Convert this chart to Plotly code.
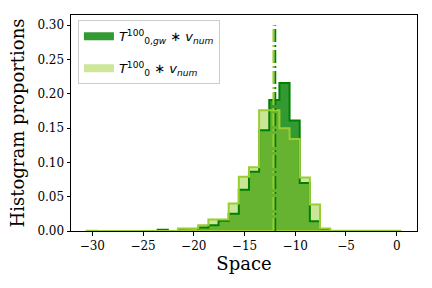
import plotly.graph_objects as go

# ---- data ----
bin_start = -30.56
bin_width = 1.0
# proportions per bin, 31 bins from -30.56 to 0.44
dark_props = [0, 0, 0, 0, 0, 0, 0, 0.002, 0, 0.0012, 0.0005,
              0.005, 0.0083, 0.015, 0.025, 0.060, 0.0865, 0.147, 0.191,
              0.216, 0.161, 0.070, 0.0142, 0.0015, 0, 0, 0, 0, 0, 0, 0]
light_props = [0.0003, 0, 0, 0, 0, 0, 0, 0, 0.0005, 0.0035, 0.0035,
               0.0083, 0.0167, 0.0167, 0.040, 0.079, 0.093, 0.176, 0.176,
               0.150, 0.134, 0.078, 0.0386, 0.0035, 0.0005, 0.0005, 0.0003,
               0.0003, 0.0003, 0.0003, 0.0003]
dark_mean = -11.97
light_mean = -12.15
vline_top = 0.30

x_tickvals = [-30, -25, -20, -15, -10, -5, 0]
x_ticktext = ["\u221230", "\u221225", "\u221220", "\u221215", "\u221210", "\u22125", "0"]
y_tickvals = [0.00, 0.05, 0.10, 0.15, 0.20, 0.25, 0.30]
y_ticktext = ["0.00", "0.05", "0.10", "0.15", "0.20", "0.25", "0.30"]

label_dark = "<i>T</i><sup>100</sup><sub>0,<i>gw</i></sub> \u2217 <i>v</i><sub><i>num</i></sub>"
label_light = "<i>T</i><sup>100</sup><sub>0</sub> \u2217 <i>v</i><sub><i>num</i></sub>"

DARK_EDGE = "#008000"
LIGHT_EDGE = "#9acd32"
DARK_FILL = "rgba(0,128,0,0.8)"
LIGHT_FILL = "rgba(154,205,50,0.5)"


def step_polygon(props):
    n = len(props)
    edges = [bin_start + i * bin_width for i in range(n + 1)]
    xs = [edges[0]]
    ys = [0]
    for i in range(n):
        xs += [edges[i], edges[i + 1]]
        ys += [props[i], props[i]]
    xs += [edges[-1], edges[0]]
    ys += [0, 0]
    return xs, ys


fig = go.Figure()

dx, dy = step_polygon(dark_props)
lx, ly = step_polygon(light_props)

# fills
fig.add_trace(go.Scatter(x=dx, y=dy, mode="lines", fill="toself", fillcolor=DARK_FILL,
                         line=dict(width=0), showlegend=False, hoverinfo="skip"))
fig.add_trace(go.Scatter(x=lx, y=ly, mode="lines", fill="toself", fillcolor=LIGHT_FILL,
                         line=dict(width=0), showlegend=False, hoverinfo="skip"))
# edges
fig.add_trace(go.Scatter(x=dx, y=dy, mode="lines", line=dict(color=DARK_EDGE, width=2),
                         showlegend=False, hoverinfo="skip"))
fig.add_trace(go.Scatter(x=lx, y=ly, mode="lines", line=dict(color=LIGHT_EDGE, width=2),
                         showlegend=False, hoverinfo="skip"))

# mean lines
fig.add_trace(go.Scatter(x=[dark_mean, dark_mean], y=[0, vline_top], mode="lines",
                         line=dict(color=DARK_EDGE, width=2, dash="13px,3px,2px,3px"),
                         showlegend=False, hoverinfo="skip"))
fig.add_trace(go.Scatter(x=[light_mean, light_mean], y=[0, vline_top], mode="lines",
                         line=dict(color=LIGHT_EDGE, width=2, dash="13px,3px,2px,3px"),
                         showlegend=False, hoverinfo="skip"))

# legend-only entries
fig.add_trace(go.Scatter(x=[None], y=[None], mode="lines", fill="toself",
                         fillcolor="#339933", line=dict(color="#339933", width=4),
                         name=label_dark, showlegend=True, legendgroup="a"))
fig.add_trace(go.Scatter(x=[None], y=[None], mode="lines", fill="toself",
                         fillcolor="#cde699", line=dict(color="#cde699", width=4),
                         name=label_light, showlegend=True, legendgroup="b"))

axis_common = dict(
    showline=True, linecolor="black", linewidth=1, mirror=True,
    ticks="outside", ticklen=3.5, tickwidth=1, tickcolor="black",
    showgrid=False, zeroline=False,
    tickfont=dict(family="DejaVu Serif", size=12, color="black"),
)

fig.update_layout(
    width=432, height=288,
    margin=dict(l=71, r=15, t=15, b=57, autoexpand=False),
    paper_bgcolor="white", plot_bgcolor="white",
    xaxis=dict(range=[-32.1, 2.0], tickmode="array", tickvals=x_tickvals, ticktext=x_ticktext,
               title=dict(text="Space", font=dict(family="DejaVu Serif", size=18, color="black"),
                          standoff=3),
               **axis_common),
    yaxis=dict(range=[0, 0.315], tickmode="array", tickvals=y_tickvals, ticktext=y_ticktext,
               title=dict(text="Histogram proportions",
                          font=dict(family="DejaVu Serif", size=18, color="black"), standoff=8),
               **axis_common),
    legend=dict(x=0.02, y=0.975, xanchor="left", yanchor="top",
                bgcolor="rgba(255,255,255,0.8)", bordercolor="#cccccc", borderwidth=1,
                font=dict(family="DejaVu Sans", size=13, color="black"),
                itemwidth=30, tracegroupgap=12),
    showlegend=True,
)

fig.write_html("out.html", post_script="document.body.style.margin='0';",
               config={"displayModeBar": False})
